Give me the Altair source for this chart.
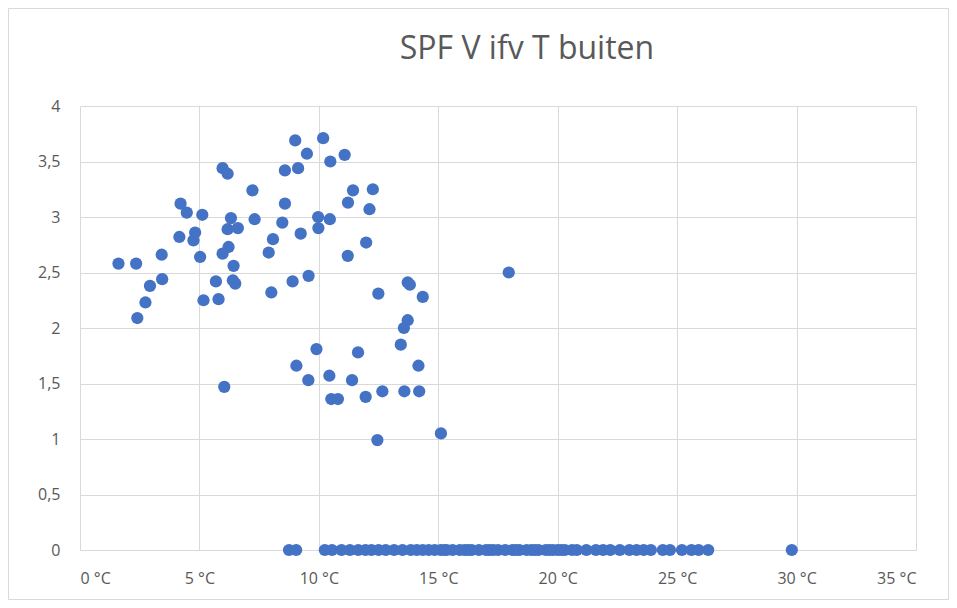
import altair as alt
import pandas as pd

# Non-zero points (T buiten in °C, SPF V)
temp_pos = [1.61, 2.35, 3.42, 2.40, 2.74, 2.93, 3.44, 4.21, 4.47, 5.12, 4.16, 4.82, 4.75, 5.03,
            5.17, 5.80, 5.69, 6.43, 6.40, 6.50, 5.97, 6.18, 7.22, 7.31, 6.32, 6.18, 6.61, 6.22,
            5.97, 6.04,
            9.01, 10.18, 9.50, 11.08, 10.48, 8.58, 9.13, 11.43, 12.26, 11.22, 12.12, 8.58, 8.47,
            9.97, 10.46, 9.98, 9.24, 8.08, 7.90, 11.21, 11.98, 8.01, 8.90, 9.57, 12.49, 13.72,
            13.81, 14.35, 13.72, 13.56, 17.95,
            9.90, 9.06, 9.56, 10.44, 11.64, 11.39, 10.52, 10.80, 11.96, 12.66, 13.43, 14.17,
            13.58, 14.20, 12.45, 15.11]
spf_pos = [2.58, 2.58, 2.66, 2.09, 2.23, 2.38, 2.44, 3.12, 3.04, 3.02, 2.82, 2.86, 2.79, 2.64,
           2.25, 2.26, 2.42, 2.56, 2.43, 2.40, 3.44, 3.39, 3.24, 2.98, 2.99, 2.89, 2.90, 2.73,
           2.67, 1.47,
           3.69, 3.71, 3.57, 3.56, 3.50, 3.42, 3.44, 3.24, 3.25, 3.13, 3.07, 3.12, 2.95,
           3.00, 2.98, 2.90, 2.85, 2.80, 2.68, 2.65, 2.77, 2.32, 2.42, 2.47, 2.31, 2.41,
           2.39, 2.28, 2.07, 2.00, 2.50,
           1.81, 1.66, 1.53, 1.57, 1.78, 1.53, 1.36, 1.36, 1.38, 1.43, 1.85, 1.66,
           1.43, 1.43, 0.99, 1.05]

# Points with SPF 0
temp_zero = [8.75, 9.05, 10.25, 10.55, 10.95, 11.3, 11.65, 11.95, 12.2, 12.5, 12.8, 13.15, 13.5,
             13.85, 14.1, 14.35, 14.6, 14.85, 15.1, 15.25, 15.35, 15.6, 15.9, 16.1, 16.25, 16.4,
             16.7, 17.0, 17.15, 17.3, 17.5, 17.8, 18.1, 18.25, 18.4, 18.7, 18.9, 19.05, 19.2,
             19.5, 19.65, 19.8, 20.0, 20.15, 20.3, 20.6, 20.8, 21.2,
             21.6, 21.9, 22.2, 22.6, 23.0, 23.3, 23.6, 23.9, 24.4, 24.7, 25.2, 25.6, 25.9, 26.3,
             29.8]

x_ticks = [0, 5, 10, 15, 20, 25, 30, 35]
y_ticks = [0, 0.5, 1, 1.5, 2, 2.5, 3, 3.5, 4]
title_text = "SPF V ifv T buiten"

df = pd.DataFrame({
    "T": temp_pos + temp_zero,
    "SPF": spf_pos + [0.0] * len(temp_zero),
})

FONT = "Open Sans"
GREY = "#595959"
GRID = "#D9D9D9"

points = alt.Chart(df).mark_circle(size=150, color="#4472C4", opacity=1).encode(
    x=alt.X("T:Q", scale=alt.Scale(domain=[0, 35], nice=False),
            axis=alt.Axis(values=x_ticks, title=None, grid=True, gridColor=GRID,
                          domain=False, ticks=False, labelColor=GREY, labelFont=FONT,
                          labelFontSize=16, labelPadding=20,
                          labelExpr="datum.value + ' °C'")),
    y=alt.Y("SPF:Q", scale=alt.Scale(domain=[0, 4], nice=False),
            axis=alt.Axis(values=y_ticks, title=None, grid=True, gridColor=GRID,
                          domain=False, ticks=False, labelColor=GREY, labelFont=FONT,
                          labelFontSize=16, labelPadding=20,
                          labelExpr="replace(format(datum.value, '~g'), '.', ',')")),
)

one = pd.DataFrame({"t": [title_text]})

border = alt.Chart(one).mark_rect(
    fill="white", fillOpacity=0, stroke=GRID, strokeWidth=1
).encode(x=alt.value(-71.5), x2=alt.value(868.5), y=alt.value(-97.5), y2=alt.value(493.5))

title = alt.Chart(one).mark_text(
    font=FONT, fontSize=32, color=GREY, align="center", baseline="middle"
).encode(text="t:N", x=alt.value(447), y=alt.value(-57))

chart = alt.layer(border, points, title).properties(
    width=836,
    height=444,
    autosize=alt.AutoSizeParams(type="none"),
    padding={"left": 72, "top": 98, "right": 33, "bottom": 50},
).configure_view(stroke=None)

chart.save("out.html", embed_options={"renderer": "svg", "actions": False})
